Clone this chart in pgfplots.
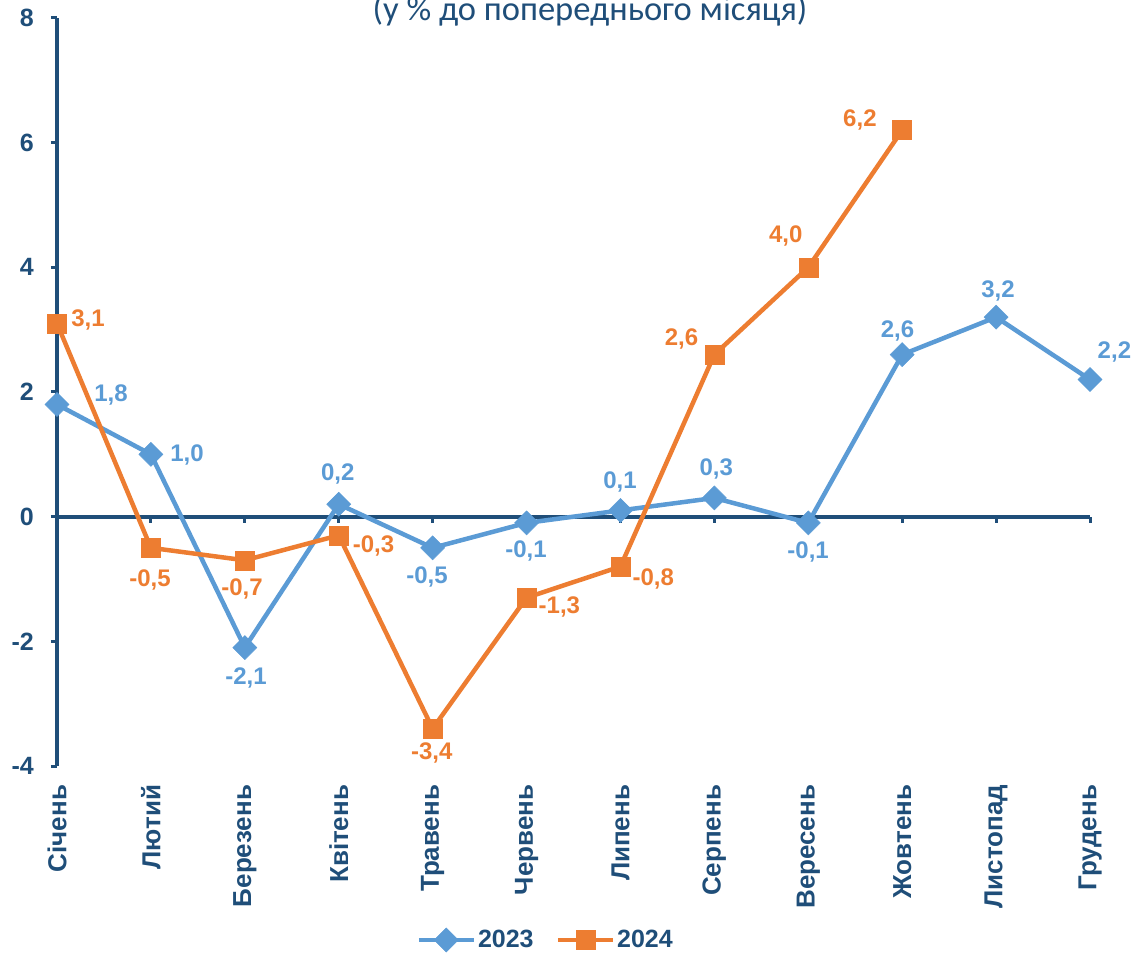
\documentclass[border=0pt]{standalone}
\usepackage{fontspec}
\setmainfont{Liberation Sans}
\newfontfamily\titlefont{Carlito}
\usepackage{pgfplots}
\pgfplotsset{compat=1.18}
\definecolor{axc}{HTML}{1F4E79}
\definecolor{b23}{HTML}{5B9BD5}
\definecolor{o24}{HTML}{ED7D31}
\begin{document}
\begin{tikzpicture}
\begin{axis}[
  scale only axis, width=1033pt, height=748pt,
  xmin=0, xmax=11, ymin=-4, ymax=8,
  clip=false,
  axis x line=middle, axis y line=left,
  hide obscured x ticks=false,
  axis line style={-, draw=axc, line width=4pt},
  xtick={0,...,11},
  xticklabels={Січень,Лютий,Березень,Квітень,Травень,Червень,Липень,Серпень,Вересень,Жовтень,Листопад,Грудень},
  ytick={-4,-2,...,8}, yticklabels={-4,-2,0,2,4,6,8},
  tick align=outside, major tick length=6pt,
  tick style={draw=axc, line width=3pt},
  xticklabel style={yshift=-262pt, rotate=90, anchor=east, inner sep=0pt, font=\bfseries\fontsize{26}{30}\selectfont, text=axc},
  yticklabel style={font=\bfseries\fontsize{25}{30}\selectfont, text=axc, inner sep=0pt, xshift=-17pt},
  legend style={at={(0.473,-0.2326)}, anchor=center, draw=none, fill=none,
    font=\bfseries\fontsize{25}{30}\selectfont, text=axc, legend columns=2,
    /tikz/every even column/.append style={column sep=20pt}, inner sep=0pt},
  legend image code/.code={\draw[mark repeat=2,mark phase=2] plot coordinates {(0pt,0pt) (27.5pt,0pt) (55pt,0pt)};},
]
\coordinate (SW) at (rel axis cs:0,0);
\addplot[color=b23, line width=4.5pt, mark=square*, mark size=8.5pt, mark options={rotate=45, solid, line width=0.5pt, fill=b23}]
  coordinates {(0,1.8) (1,1.0) (2,-2.1) (3,0.2) (4,-0.5) (5,-0.1) (6,0.1) (7,0.3) (8,-0.1) (9,2.6) (10,3.2) (11,2.2)};
\addlegendentry{2023}
\addplot[color=o24, line width=4.5pt, mark=square*, mark size=9.5pt, mark options={solid, line width=0.5pt, fill=o24}]
  coordinates {(0,3.1) (1,-0.5) (2,-0.7) (3,-0.3) (4,-3.4) (5,-1.3) (6,-0.8) (7,2.6) (8,4.0) (9,6.2)};
\addlegendentry{2024}
\addplot[forget plot, draw=none, mark=none, nodes near coords, point meta=explicit symbolic,
  nodes near coords style={anchor=center, inner sep=0pt, font=\bfseries\fontsize{24}{28}\selectfont, text=b23}]
  table[meta=l] {
x y l
0.575 1.95 1,8
1.384 0.99 1,0
2.013 -2.59 -2,1
2.99 0.69 0,2
3.94 -0.97 -0,5
4.995 -0.55 -0,1
5.996 0.55 0,1
7.02 0.76 0,3
7.998 -0.57 -0,1
8.95 2.98 2,6
10.02 3.62 3,2
11.26 2.65 2,2
};
\addplot[forget plot, draw=none, mark=none, nodes near coords, point meta=explicit symbolic,
  nodes near coords style={anchor=center, inner sep=0pt, font=\bfseries\fontsize{24}{28}\selectfont, text=o24}]
  table[meta=l] {
x y l
0.33 3.16 3,1
0.99 -1.02 -0,5
1.97 -1.16 -0,7
3.37 -0.47 -0,3
3.99 -3.79 -3,4
5.35 -1.45 -1,3
6.35 -1.00 -0,8
6.65 2.85 2,6
7.76 4.50 4,0
8.55 6.36 6,2
};
\node[font=\titlefont\fontsize{34.5}{40}\selectfont, text=axc, anchor=base] at (rel axis cs:0.516,0.9973) {(у \% до попереднього місяця)};
\end{axis}
\pgfresetboundingbox
\path (SW) ++(-57pt,-187pt) rectangle ++(1137pt,953pt);
\end{tikzpicture}
\end{document}
